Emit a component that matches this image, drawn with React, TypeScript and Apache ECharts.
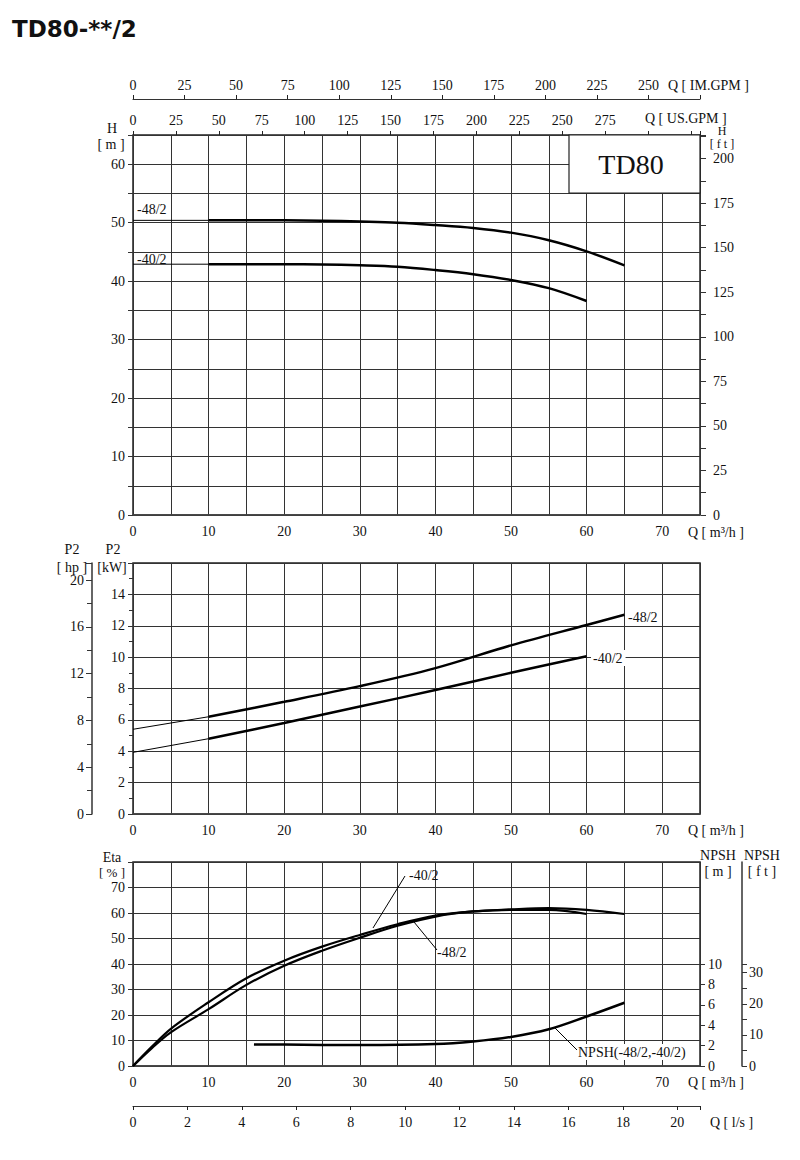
import React, { useEffect, useRef } from "react";
import * as echarts from "echarts";

// ---- data ----
const Q_H48 = [10, 15, 20, 25, 30, 35, 40, 45, 50, 55, 60, 65];
const H48 = [50.4, 50.4, 50.4, 50.35, 50.2, 50.0, 49.6, 49.1, 48.3, 47.0, 45.1, 42.7];
const Q_H40 = [10, 15, 20, 25, 30, 35, 40, 45, 50, 55, 60];
const H40 = [42.9, 42.9, 42.9, 42.85, 42.7, 42.45, 41.9, 41.2, 40.2, 38.8, 36.6];
const Q_THIN = [0, 10];
const H48_THIN = [50.4, 50.4];
const H40_THIN = [42.9, 42.9];

const Q_P48 = [10, 20, 30, 40, 50, 60, 65];
const P48 = [6.2, 7.15, 8.15, 9.3, 10.75, 12.05, 12.7];
const Q_P40 = [10, 20, 30, 40, 50, 60];
const P40 = [4.8, 5.8, 6.85, 7.9, 9.0, 10.05];
const P48_THIN = [5.4, 6.2];
const P40_THIN = [3.93, 4.8];

const Q_E40 = [0, 2.5, 5, 10, 15, 20, 25, 30, 35, 40, 45, 50, 55, 60];
const E40 = [0, 7.6, 14.6, 25, 34.4, 41.3, 46.8, 51.4, 55.6, 59.0, 60.6, 61.2, 61.2, 59.6];
const Q_E48 = [0, 2.5, 5, 10, 15, 20, 25, 30, 35, 40, 45, 50, 55, 60, 65];
const E48 = [0, 7.0, 13.2, 22.3, 31.8, 39.3, 45.2, 50.3, 55.0, 58.6, 60.6, 61.4, 61.9, 61.2, 59.6];

const Q_NPSH = [16, 20, 30, 40, 45, 50, 55, 60, 65];
const NPSH = [2.12, 2.1, 2.05, 2.15, 2.4, 2.85, 3.6, 4.85, 6.2];

const Q_MAX = 75;
const H_MAX = 65;
const KW_MAX = 16;
const ETA_MAX = 80;
const NPSH_MAX = 10;

const zip = (xs: number[], ys: number[]) => xs.map((x, i) => [x, ys[i]]);

const FONT = '"Liberation Serif", "Times New Roman", serif';
const LBL = { fontFamily: FONT, fontSize: 14, color: "#111" };
const GRID_LINE = { lineStyle: { color: "#333", width: 1 } };

function txt(text: string, x: number, y: number, align = "left", size = 14, extra: any = {}) {
  return {
    type: "text",
    z: 110,
    style: {
      text,
      x,
      y,
      font: `${size}px ${FONT}`,
      fill: "#111",
      textAlign: align,
      align,
      textVerticalAlign: "middle",
      verticalAlign: "middle",
      ...extra,
    },
  };
}
function seg(x1: number, y1: number, x2: number, y2: number) {
  return { type: "line", z: 110, shape: { x1, y1, x2, y2 }, style: { stroke: "#000", lineWidth: 1 } };
}

export default function App() {
  const ref = useRef<HTMLDivElement>(null);
  useEffect(() => {
    document.body.style.margin = "0";
    const chart = echarts.init(ref.current!, null, { renderer: "svg" });
    const L = 133, W = 567;
    const frame = { show: true, borderColor: "#222", borderWidth: 1.5, backgroundColor: "transparent" };
    const qAxis = (gridIndex: number, showLabels = true) => ({
      type: "value",
      gridIndex,
      min: 0,
      max: Q_MAX,
      interval: 5,
      axisLine: { show: true, onZero: false, lineStyle: { color: "#444", width: 1.5 } },
      axisTick: { show: false },
      axisLabel: {
        show: showLabels,
        ...LBL,
        margin: 9,
        formatter: (v: number) => (v % 10 === 0 && v < 75 ? String(v) : ""),
      },
      splitLine: { show: true, ...GRID_LINE },
    });
    const black = (width: number) => ({ color: "#000", width });
    const line = (name: string, data: any, x: number, y: number, width = 2.5, smooth: any = 0.35) => ({
      type: "line",
      name,
      data,
      xAxisIndex: x,
      yAxisIndex: y,
      smooth,
      symbol: "none",
      lineStyle: black(width),
      itemStyle: { color: "#000" },
      z: 5,
    });

    chart.setOption({
      animation: false,
      grid: [
        { left: L, top: 135, width: W, height: 380, ...frame },
        { left: L, top: 563, width: W, height: 251, ...frame },
        { left: L, top: 862, width: W, height: 204, ...frame },
        { left: L, top: 964, width: W, height: 102, show: false },
      ],
      xAxis: [
        qAxis(0),
        {
          type: "value",
          gridIndex: 0,
          position: "top",
          min: 0,
          max: Q_MAX * 4.40287,
          interval: 25,
          axisLine: { show: false, onZero: false },
          axisTick: { show: true, length: 4, lineStyle: { color: "#222" } },
          axisLabel: { ...LBL, margin: 8, formatter: (v: number) => (v % 25 === 0 && v <= 275 ? String(v) : "") },
          splitLine: { show: false },
        },
        {
          type: "value",
          gridIndex: 0,
          position: "top",
          offset: 36,
          min: 0,
          max: Q_MAX * 3.66615,
          interval: 25,
          axisLine: { show: true, onZero: false, lineStyle: { color: "#333", width: 1.2 } },
          axisTick: { show: true, length: 4, lineStyle: { color: "#222" } },
          axisLabel: { ...LBL, margin: 7, formatter: (v: number) => (v % 25 === 0 && v <= 250 ? String(v) : "") },
          splitLine: { show: false },
        },
        qAxis(1),
        qAxis(2),
        {
          type: "value",
          gridIndex: 2,
          position: "bottom",
          offset: 40,
          min: 0,
          max: Q_MAX / 3.6,
          interval: 2,
          axisLine: { show: true, onZero: false, lineStyle: { color: "#333", width: 1.2 } },
          axisTick: { show: true, length: 4, lineStyle: { color: "#222" } },
          axisLabel: { ...LBL, margin: 9, formatter: (v: number) => (v % 2 === 0 && v <= 20 ? String(v) : "") },
          splitLine: { show: false },
        },
        { type: "value", gridIndex: 3, min: 0, max: Q_MAX, show: false },
      ],
      yAxis: [
        {
          type: "value",
          gridIndex: 0,
          min: 0,
          max: H_MAX,
          interval: 5,
          axisLine: { show: false, onZero: false },
          axisTick: { show: true, length: 5, lineStyle: { color: "#333" } },
          axisLabel: { ...LBL, margin: 8, formatter: (v: number) => (v % 10 === 0 ? String(v) : "") },
          splitLine: { show: true, ...GRID_LINE },
        },
        {
          type: "value",
          gridIndex: 0,
          position: "right",
          offset: 1,
          min: 0,
          max: H_MAX * 3.28084,
          interval: 12.5,
          axisLine: { show: false, onZero: false },
          axisTick: { show: true, length: 5, lineStyle: { color: "#333" } },
          axisLabel: { ...LBL, margin: 12, formatter: (v: number) => (v % 25 === 0 ? String(v) : "") },
          splitLine: { show: false },
        },
        {
          type: "value",
          gridIndex: 1,
          min: 0,
          max: KW_MAX,
          interval: 2,
          axisLine: { show: false, onZero: false },
          axisTick: { show: true, length: 5, lineStyle: { color: "#333" } },
          minorTick: { show: true, splitNumber: 2, length: 4, lineStyle: { color: "#333" } },
          axisLabel: { ...LBL, margin: 8, formatter: (v: number) => (v < 16 ? String(v) : "") },
          splitLine: { show: true, ...GRID_LINE },
        },
        {
          type: "value",
          gridIndex: 1,
          position: "left",
          offset: 41,
          min: 0,
          max: KW_MAX / 0.745699,
          interval: 4,
          axisLine: { show: true, onZero: false, lineStyle: { color: "#333", width: 1.5 } },
          axisTick: { show: true, length: 6, lineStyle: { color: "#333" } },
          minorTick: { show: true, splitNumber: 2, length: 5, lineStyle: { color: "#333" } },
          axisLabel: { ...LBL, margin: 8, formatter: (v: number) => (v % 4 === 0 ? String(v) : "") },
          splitLine: { show: false },
        },
        {
          type: "value",
          gridIndex: 2,
          min: 0,
          max: ETA_MAX,
          interval: 10,
          axisLine: { show: false, onZero: false },
          axisTick: { show: true, length: 5, lineStyle: { color: "#333" } },
          axisLabel: { ...LBL, margin: 8, formatter: (v: number) => (v < 80 ? String(v) : "") },
          splitLine: { show: true, ...GRID_LINE },
        },
        {
          type: "value",
          gridIndex: 2,
          position: "right",
          offset: 42,
          min: 0,
          max: ETA_MAX,
          axisLine: { show: true, onZero: false, lineStyle: { color: "#333", width: 1.5 } },
          axisTick: { show: false },
          axisLabel: { show: false },
          splitLine: { show: false },
        },
        {
          type: "value",
          gridIndex: 3,
          position: "right",
          min: 0,
          max: NPSH_MAX,
          interval: 2,
          axisLine: { show: false, onZero: false },
          axisTick: { show: true, length: 5, lineStyle: { color: "#333" } },
          axisLabel: { ...LBL, margin: 8 },
          splitLine: { show: false },
        },
        {
          type: "value",
          gridIndex: 3,
          position: "right",
          offset: 42,
          min: 0,
          max: NPSH_MAX * 3.28084,
          interval: 5,
          axisLine: { show: false, onZero: false },
          axisTick: { show: true, length: 5, lineStyle: { color: "#333" } },
          axisLabel: { ...LBL, margin: 7, formatter: (v: number) => (v % 10 === 0 ? String(v) : "") },
          splitLine: { show: false },
        },
      ],
      series: [
        line("-48/2 H thin", zip(Q_THIN, H48_THIN), 0, 0, 1, false),
        line("-48/2 H", zip(Q_H48, H48), 0, 0),
        line("-40/2 H thin", zip(Q_THIN, H40_THIN), 0, 0, 1, false),
        line("-40/2 H", zip(Q_H40, H40), 0, 0),
        line("-48/2 P2 thin", zip(Q_THIN, P48_THIN), 3, 2, 1, false),
        line("-48/2 P2", zip(Q_P48, P48), 3, 2),
        line("-40/2 P2 thin", zip(Q_THIN, P40_THIN), 3, 2, 1, false),
        line("-40/2 P2", zip(Q_P40, P40), 3, 2),
        line("-40/2 Eta", zip(Q_E40, E40), 4, 4, 2.2),
        line("-48/2 Eta", zip(Q_E48, E48), 4, 4, 2.2),
        line("NPSH", zip(Q_NPSH, NPSH), 6, 6, 2.5),
      ],
      graphic: [
        {
          type: "text",
          z: 110,
          style: {
            text: "TD80-**/2",
            x: 12,
            y: 29,
            font: 'bold 23px "DejaVu Sans", sans-serif',
            fill: "#111",
            textVerticalAlign: "middle",
            verticalAlign: "middle",
          },
        },
        txt("Q [ IM.GPM ]", 668, 85),
        txt("Q [ US.GPM ]", 645, 118),
        {
          type: "rect",
          z: 100,
          shape: { x: 569, y: 135, width: 131, height: 58 },
          style: { fill: "#fff", stroke: "#222", lineWidth: 1.2 },
        },
        txt("TD80", 631, 164, "center", 28),
        txt("H", 112, 128, "center"),
        txt("[ m ]", 111, 144, "center"),
        txt("H", 722, 131, "center", 12),
        txt("[ f t ]", 722, 144, "center", 12),
        txt("-48/2", 137, 209, "left", 14),
        txt("-40/2", 137, 259, "left", 14),
        txt("Q [ m³/h ]", 688, 532),
        txt("P2", 72, 549, "center"),
        txt("[ hp ]", 72, 567, "center"),
        txt("P2", 113, 549, "center"),
        txt("[kW]", 112, 567, "center"),
        txt("-48/2", 628, 617, "left", 14),
        txt("-40/2", 591, 658, "left", 14, { backgroundColor: "#fff", padding: [1, 3, 1, 2] }),
        txt("Q [ m³/h ]", 688, 830),
        txt("Eta", 112, 857, "center"),
        txt("[ % ]", 112, 872, "center", 13),
        txt("NPSH", 718, 855, "center"),
        txt("[ m ]", 718, 871, "center"),
        txt("NPSH", 762, 855, "center"),
        txt("[ f t ]", 762, 871, "center"),
        seg(373, 928, 405, 876),
        txt("-40/2", 409, 875, "left", 14),
        seg(414, 922, 437, 950),
        txt("-48/2", 437, 952, "left", 14),
        seg(555, 1028, 577, 1050),
        txt("NPSH(-48/2,-40/2)", 577, 1052, "left", 14, { backgroundColor: "#fff", padding: [1, 1, 1, 1] }),
        txt("Q [ m³/h ]", 688, 1082),
        txt("Q [ l/s ]", 710, 1122),
      ],
    });
    return () => chart.dispose();
  }, []);
  return <div ref={ref} style={{ width: 800, height: 1160 }} />;
}
